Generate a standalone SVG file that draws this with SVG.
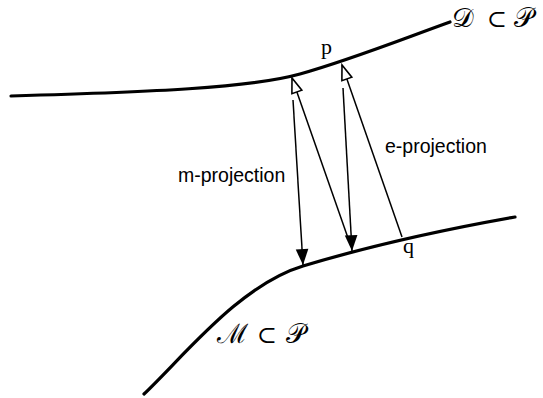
<svg xmlns="http://www.w3.org/2000/svg" width="543" height="398" viewBox="0 0 543 398">
<style>
.curve{fill:none;stroke:#000;stroke-width:3.2;stroke-linecap:round}
.arr{fill:none;stroke:#000;stroke-width:1.5}
.lbl{font-family:"Liberation Sans",Arial,sans-serif;font-size:19.5px;fill:#000}
.pt{font-family:"Liberation Serif","Times New Roman",serif;font-size:22px;fill:#000}
.scr{font-family:"DejaVu Serif","Liberation Serif",serif;font-size:27px;fill:#000}
.sub{font-family:"DejaVu Serif","Liberation Serif",serif;font-size:24px;fill:#000}
</style>
<defs>
<marker id="filled" markerUnits="userSpaceOnUse" markerWidth="20" markerHeight="20" viewBox="-17 -8 19 16" refX="0" refY="0" orient="auto">
<path d="M0,0 L-15,-6 L-15,6 Z" fill="#000"/>
</marker>
<marker id="open" markerUnits="userSpaceOnUse" markerWidth="20" markerHeight="20" viewBox="-17 -8 19 16" refX="0" refY="0" orient="auto">
<path d="M0,0 L-14,-5 L-14,5 Z" fill="#fff" stroke="#000" stroke-width="1.5" stroke-linejoin="miter"/>
</marker>
</defs>
<g id="manifold-D">
<path class="curve" d="M11,96 C150,92 250,88 300,74 S400,40 450,22"/>
<text class="scr" x="452" y="27">𝒟</text>
<text class="sub" x="487" y="27">⊂</text>
<text class="scr" x="514" y="27">𝒫</text>
<text class="pt" x="321" y="54">p</text>
</g>
<g id="manifold-M">
<path class="curve" d="M144,394 C185,355 240,285 303,266 S430,232 515,217"/>
<text class="scr" x="217" y="343">ℳ</text>
<text class="sub" x="257" y="343">⊂</text>
<text class="scr" x="286" y="343">𝒫</text>
<text class="pt" x="403" y="253">q</text>
</g>
<g id="connectors">
<line class="arr" x1="293" y1="100" x2="303" y2="265" marker-end="url(#filled)"/>
<line class="arr" x1="343" y1="88" x2="352" y2="251" marker-end="url(#filled)"/>
<line class="arr" x1="348" y1="238" x2="292" y2="78" marker-end="url(#open)"/>
<line class="arr" x1="402" y1="237" x2="342" y2="65" marker-end="url(#open)"/>
</g>
<g id="labels">
<text class="lbl" x="178" y="182">m-projection</text>
<text class="lbl" x="385" y="153">e-projection</text>
</g>
</svg>
